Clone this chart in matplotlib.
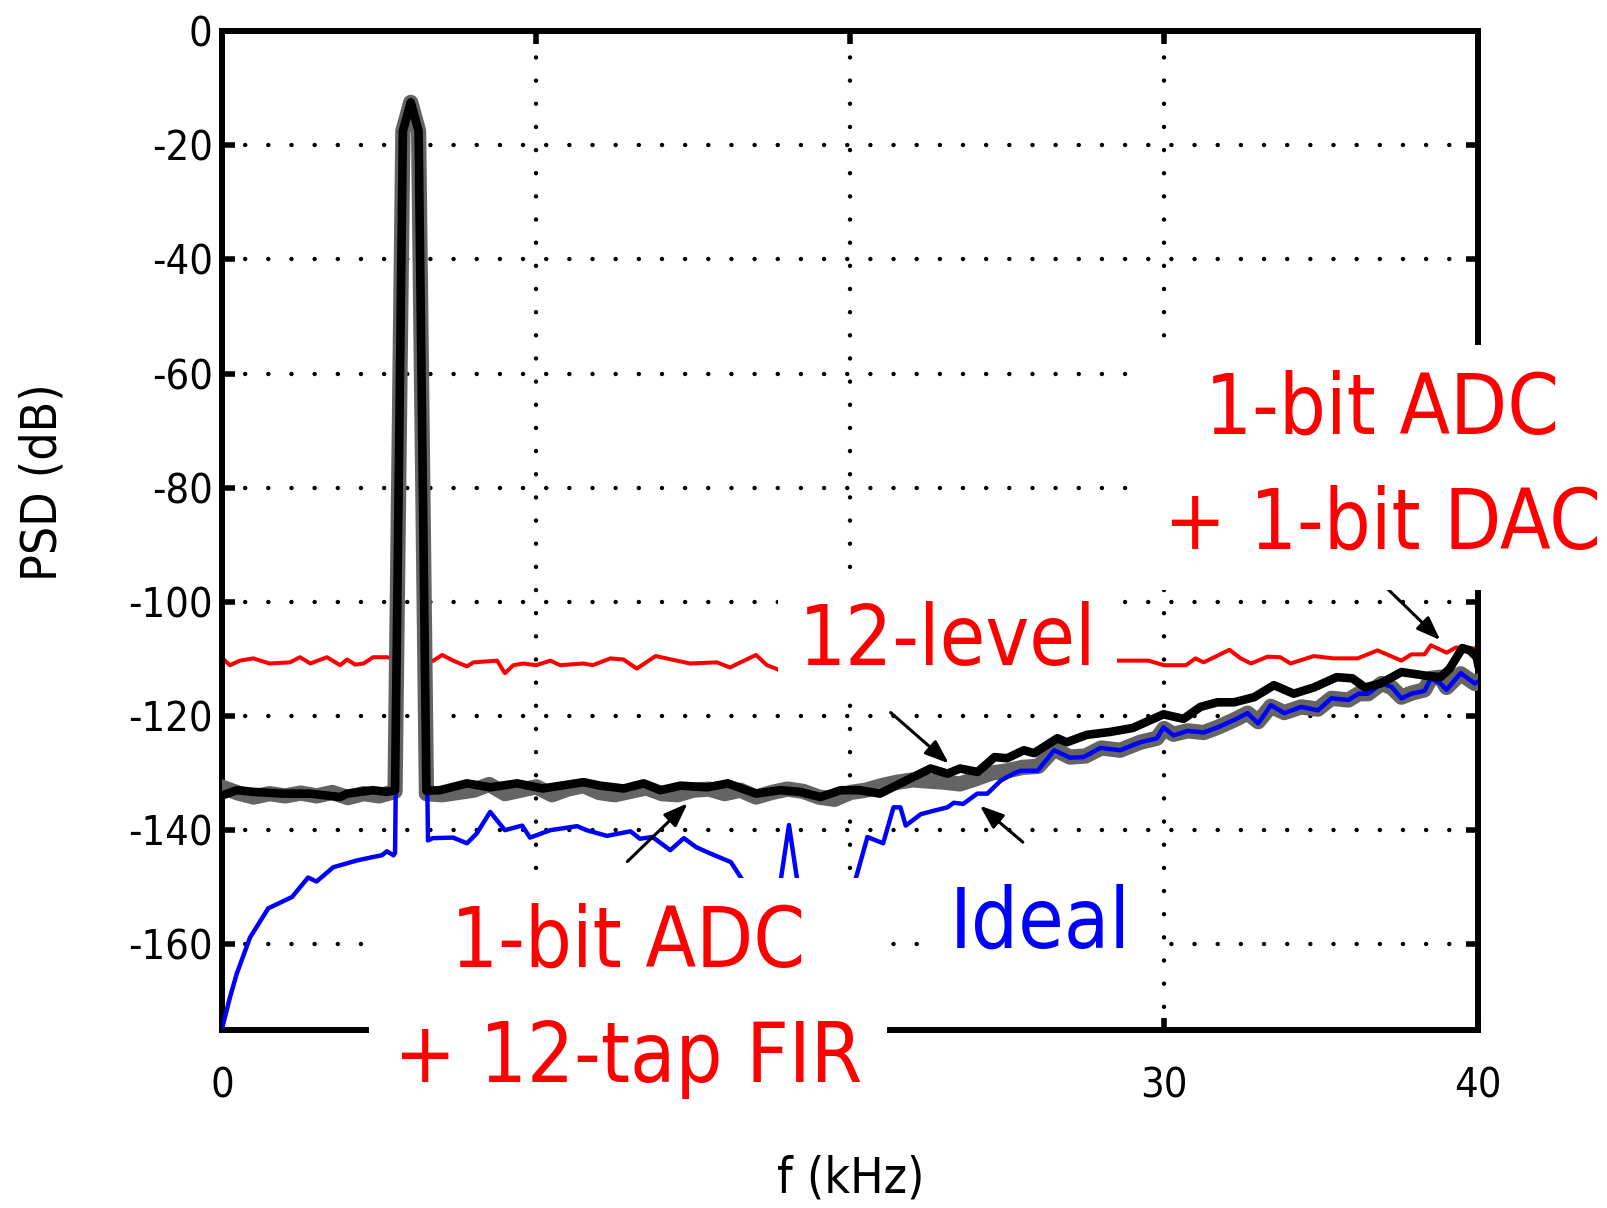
import matplotlib
matplotlib.use("Agg")
import matplotlib.pyplot as plt
from matplotlib import font_manager as fm

# Ideal (blue)
ideal_f = [0, 0.24, 0.46, 0.88, 1.46, 2.22, 2.73, 3.0, 3.53, 4.29, 4.8, 5.08, 5.24, 5.45,
           5.5, 5.75, 6.0, 6.25, 6.55, 6.7, 7.35, 7.79, 8.1, 8.53, 9.0, 9.55, 9.8, 10.45,
           11.3, 11.6, 12.25, 13.0, 13.3, 13.7, 14.27, 14.7, 15.1, 15.55, 16.2, 16.6, 17.0,
           17.7, 18.05, 18.4, 19.0, 19.8, 20.1, 20.55, 21.05, 21.38, 21.6, 21.77, 22.25,
           22.66, 23.1, 23.3, 23.6, 24.05, 24.37, 24.8, 25.2, 25.43, 25.97, 26.5, 27.0,
           27.43, 27.97, 28.6, 29.24, 29.77, 29.98, 30.3, 30.75, 31.26, 31.7, 32.23, 32.66,
           33.0, 33.4, 33.83, 34.37, 34.9, 35.33, 35.87, 36.2, 36.5, 36.93, 37.25, 37.56,
           37.88, 38.3, 38.5, 38.8, 39.0, 39.45, 39.9, 40.0]
ideal_db = [-174.5, -169.3, -165.1, -158.8, -153.7, -151.7, -148.3, -149.0, -146.5, -145.3,
            -144.7, -144.4, -143.7, -144.4, -144.0, -17.5, -12.5, -17.5, -141.8, -141.4,
            -141.3, -142.3, -140.6, -136.8, -140.0, -139.2, -141.3, -140.0, -139.3, -140.0,
            -141.0, -140.2, -141.5, -141.2, -143.5, -141.4, -143.0, -144.1, -145.6, -149.0,
            -152.0, -152.0, -139.1, -152.0, -153.0, -152.0, -150.0, -141.2, -142.3, -136.0,
            -136.0, -139.2, -137.2, -136.6, -136.0, -135.2, -135.4, -133.6, -133.6, -131.3,
            -130.1, -129.6, -129.6, -126.0, -127.3, -127.2, -125.6, -126.0, -124.6, -123.9,
            -122.0, -123.4, -122.6, -122.9, -122.0, -120.7, -119.5, -121.3, -118.1, -119.5,
            -118.4, -119.0, -116.9, -117.2, -116.1, -116.1, -114.3, -114.9, -116.9, -116.1,
            -115.6, -113.4, -114.3, -115.4, -112.5, -114.3, -114.0]

# 1-bit ADC + 12-tap FIR (grey)
fir_f = [0, 0.5, 1.0, 1.5, 2.0, 2.5, 3.0, 3.5, 4.0, 4.5, 5.0, 5.5, 5.75, 6.0, 6.25, 6.5,
         7.0, 7.5, 8.0, 8.5, 9.0, 9.5, 10.0, 10.5, 11.0, 11.5, 12.0, 12.5, 13.0, 13.5,
         14.0, 14.5, 15.0, 15.5, 16.0, 16.5, 17.0, 17.5, 18.0, 18.5, 19.0, 19.5, 20.0,
         20.5, 21.0, 21.5, 22.0, 22.5, 23.0, 23.5, 24.0, 24.5, 25.0, 25.5, 26.0, 26.5,
         27.0, 27.5, 28.0, 28.6, 29.24, 29.77, 30.0, 30.3, 30.75, 31.26, 31.7, 32.23,
         32.66, 33.0, 33.4, 33.83, 34.37, 34.9, 35.33, 35.87, 36.2, 36.5, 36.93, 37.25,
         37.56, 37.88, 38.3, 38.5, 38.8, 39.0, 39.45, 39.9, 40.0]
fir_db = [-132.5, -133.5, -134.2, -133.6, -134.0, -133.5, -134.0, -133.4, -134.3, -133.6,
          -134.0, -133.2, -17.5, -12.5, -17.5, -133.6, -133.8, -133.4, -133.0, -132.0,
          -133.6, -133.0, -132.4, -133.8, -132.8, -132.2, -133.4, -133.8, -133.2, -132.6,
          -133.6, -133.8, -133.0, -132.8, -133.6, -133.0, -134.2, -133.4, -132.8, -133.2,
          -134.2, -134.6, -133.4, -133.0, -132.2, -131.6, -131.2, -131.4, -131.6, -131.9,
          -131.0, -130.0, -129.6, -129.0, -128.8, -125.8, -127.2, -127.0, -125.6, -126.0,
          -124.6, -123.9, -122.2, -123.2, -122.6, -122.9, -122.0, -120.7, -119.5, -121.0,
          -118.3, -119.4, -118.4, -118.8, -116.9, -117.2, -116.1, -116.1, -114.3, -115.0,
          -116.7, -116.0, -115.4, -113.4, -113.2, -115.0, -112.6, -114.3, -114.0]

# 12-level (black)
lvl_f = [0, 0.46, 1.0, 1.93, 2.8, 3.75, 3.97, 4.8, 5.23, 5.5, 5.75, 6.0, 6.25, 6.5, 6.93,
         7.79, 8.53, 9.39, 10.2, 11.5, 12.04, 12.78, 13.42, 13.95, 14.6, 15.45, 16.1, 17.0,
         17.77, 18.4, 19.05, 19.7, 20.3, 20.95, 21.6, 22.56, 23.1, 23.5, 24.06, 24.6, 25.0,
         25.53, 25.86, 26.6, 26.9, 27.54, 28.27, 29.0, 29.98, 30.62, 31.16, 31.7, 32.23,
         32.87, 33.5, 34.13, 34.77, 35.5, 36.0, 36.4, 36.9, 37.56, 38.3, 38.8, 39.1, 39.5,
         39.74, 39.96, 40.0]
lvl_db = [-133.9, -133.0, -133.3, -133.6, -133.6, -134.2, -133.6, -133.0, -133.3, -133.0,
          -17.5, -12.5, -17.5, -133.1, -133.0, -131.8, -132.5, -131.8, -132.7, -131.6,
          -132.2, -132.7, -131.8, -133.0, -132.2, -132.5, -131.8, -133.6, -133.0, -133.3,
          -134.2, -133.0, -133.0, -133.6, -131.8, -129.2, -130.1, -129.2, -129.8, -127.2,
          -127.4, -126.0, -126.5, -123.9, -124.6, -123.3, -122.8, -122.1, -119.7, -120.5,
          -118.4, -117.6, -117.6, -116.7, -114.6, -116.1, -115.0, -113.2, -113.4, -115.0,
          -114.3, -112.3, -112.9, -113.2, -111.7, -108.1, -108.5, -109.7, -110.8]

# 1-bit ADC + 1-bit DAC (red)
dac_f = [0, 0.24, 0.56, 0.98, 1.5, 2.15, 2.47, 2.8, 3.33, 3.75, 3.97, 4.23, 4.5, 4.8, 5.24,
         5.5, 5.75, 6.0, 6.25, 6.5, 6.72, 7.0, 7.35, 7.79, 8.0, 8.75, 9.0, 9.27, 9.58, 10.0,
         10.45, 10.76, 11.5, 11.8, 12.36, 12.78, 13.2, 13.8, 14.9, 15.75, 16.17, 17.0,
         17.35, 17.77, 17.98, 18.5, 19.5, 20.5, 21.5, 22.5, 23.5, 24.5, 25.5, 26.5, 27.5,
         28.17, 29.5, 30.0, 30.7, 31.0, 31.26, 31.6, 32.08, 32.44, 32.77, 33.3, 33.7,
         34.03, 34.77, 35.4, 36.17, 36.8, 37.56, 37.88, 38.3, 38.5, 39.0, 39.3, 40.0]
dac_db = [-109.9, -111.1, -110.3, -109.9, -110.8, -110.6, -109.7, -110.8, -109.7, -111.1,
          -110.1, -111.0, -110.8, -109.7, -109.7, -110.0, -17.5, -12.5, -17.5, -110.8,
          -110.3, -109.3, -110.3, -111.3, -110.6, -110.3, -112.5, -111.1, -110.8, -111.1,
          -110.3, -111.1, -110.8, -111.1, -109.9, -110.1, -111.7, -109.5, -110.8, -110.6,
          -111.5, -109.3, -111.1, -112.0, -111.1, -110.5, -110.8, -110.2, -111.0, -110.4,
          -110.9, -110.3, -110.7, -110.5, -111.0, -110.3, -110.3, -111.1, -111.1, -109.9,
          -110.6, -109.7, -108.4, -109.9, -110.8, -109.6, -109.7, -110.8, -109.5, -109.9,
          -109.9, -108.5, -110.3, -109.2, -109.2, -107.6, -108.9, -108.0, -108.2]

x_ticks = [0, 10, 20, 30, 40]
x_labels = ['0', '', '', '30', '40']   # 10 and 20 sit under the FIR label box
y_ticks = [0, -20, -40, -60, -80, -100, -120, -140, -160]

# pick a narrow sans face if one is installed, else plain Liberation Sans
have = {(f.name, f.stretch) for f in fm.fontManager.ttflist
        if f.style == 'normal' and f.weight in (400, 'normal', 'regular')}
family, stretch = 'Liberation Sans', 'normal'
for cand in [('Liberation Sans Narrow', 'normal'), ('Arial Narrow', 'normal'),
             ('Nimbus Sans Narrow', 'normal'), ('Roboto Condensed', 'normal'),
             ('Noto Sans', 'condensed'), ('Open Sans', 'condensed'),
             ('DejaVu Sans', 'condensed'), ('Noto Sans', 'semi-condensed'),
             ('DejaVu Sans', 'semi-condensed')]:
    if cand in have:
        family, stretch = cand
        break
plt.rcParams['font.family'] = [family, 'Liberation Sans', 'DejaVu Sans']
plt.rcParams['font.stretch'] = stretch
plt.rcParams['axes.unicode_minus'] = False

fig = plt.figure(figsize=(16.07, 12.08), dpi=100)
renderer = fig.canvas.get_renderer()


def fit_size(s, size, target_px, k):
    # shrink a face that is wider than the narrow original, part way
    t = fig.text(0, 0, s, fontsize=size)
    w = t.get_window_extent(renderer=renderer).width
    t.remove()
    return size * min(1.0, target_px / w) ** k


def lp_metrics(size):
    # matplotlib spaces lines by the "lp" ascent and descent
    prop = fm.FontProperties(size=size)
    w, h, d = renderer.get_text_width_height_descent('lp', prop, ismath=False)
    return h - d, d


ann_size = fit_size('12-level', 69, 270, 0.6)
tick_size = fit_size('-160', 34, 81, 0.75)
lab_size = fit_size('f (kHz)', 41, 141, 0.75)
lp_up, lp_down = lp_metrics(ann_size)
line_gap = (115 - lp_down) / lp_up

ax = fig.add_axes([0.1384, 0.1474, 0.7813, 0.8269])
px_per_db = ax.get_window_extent().height / 175.0

ax.plot(dac_f, dac_db, color='#ff0000', lw=2.9, zorder=2)
ax.plot(fir_f, fir_db, color='#646464', lw=11, zorder=3, solid_joinstyle='round')
ax.plot(ideal_f, ideal_db, color='#0000ff', lw=3.2, zorder=4)
ax.plot(lvl_f, lvl_db, color='k', lw=6.2, zorder=5, solid_joinstyle='round')

ax.set_xlim(0, 40)
ax.set_ylim(-175, 0)
ax.set_xticks(x_ticks)
ax.set_xticklabels(x_labels)
ax.set_yticks(y_ticks)
ax.grid(True, color='k', linestyle=(0, (0.01, 5.2)), linewidth=3.2,
        dash_capstyle='round')
ax.tick_params(direction='in', length=9, width=4, top=True, right=True,
               labelsize=tick_size)
ax.tick_params(axis='x', pad=26)
ax.tick_params(axis='y', pad=7)
for s in ax.spines.values():
    s.set_linewidth(4.3)

ax.set_xlabel('f (kHz)', fontsize=lab_size)
ax.set_ylabel('PSD (dB)', fontsize=lab_size)
ax.xaxis.label.set_va('center')
ax.yaxis.label.set_va('center')
ax.xaxis.set_label_coords(0.5006, -0.149)
ax.yaxis.set_label_coords(-0.1429, 0.548)

# arrows
arrow = dict(arrowstyle='-|>,head_length=0.4,head_width=0.15', color='k', lw=2.2,
             mutation_scale=36, shrinkA=0, shrinkB=0)
ax.annotate('', xy=(23.14, -128.3), xytext=(21.29, -119.4), arrowprops=arrow, zorder=6)
ax.annotate('', xy=(14.82, -135.3), xytext=(12.9, -145.5), arrowprops=arrow, zorder=6)
ax.annotate('', xy=(24.13, -135.7), xytext=(25.5, -142.1), arrowprops=arrow, zorder=6)
ax.annotate('', xy=(38.8, -106.7), xytext=(37.04, -97.3), arrowprops=arrow, zorder=6,
            annotation_clip=False)

# labels with white boxes; two-line ones are placed by the first baseline
box = dict(facecolor='white', edgecolor='none', boxstyle='square,pad=0.3')
box_s = dict(facecolor='white', edgecolor='none', boxstyle='square,pad=0.25')
lift = lp_up / px_per_db
ax.text(23.09, -111.1, '12-level', color='#ff0000', fontsize=ann_size, ha='center',
        va='baseline', bbox=box_s, zorder=10, clip_on=False)
ax.text(12.93, -163.9 + lift, '1-bit ADC\n+ 12-tap FIR', color='#ff0000',
        fontsize=ann_size, ha='center', va='top', linespacing=line_gap, bbox=box,
        zorder=10, clip_on=False)
ax.text(36.95, -70.5 + lift, '1-bit ADC\n+ 1-bit DAC', color='#ff0000',
        fontsize=ann_size, ha='center', va='top', linespacing=line_gap, bbox=box,
        zorder=10, clip_on=False)
ax.text(26.04, -160.5, 'Ideal', color='#0000ff', fontsize=ann_size, ha='center',
        va='baseline', bbox=box, zorder=10, clip_on=False)

fig.savefig('out.png', dpi=100)
